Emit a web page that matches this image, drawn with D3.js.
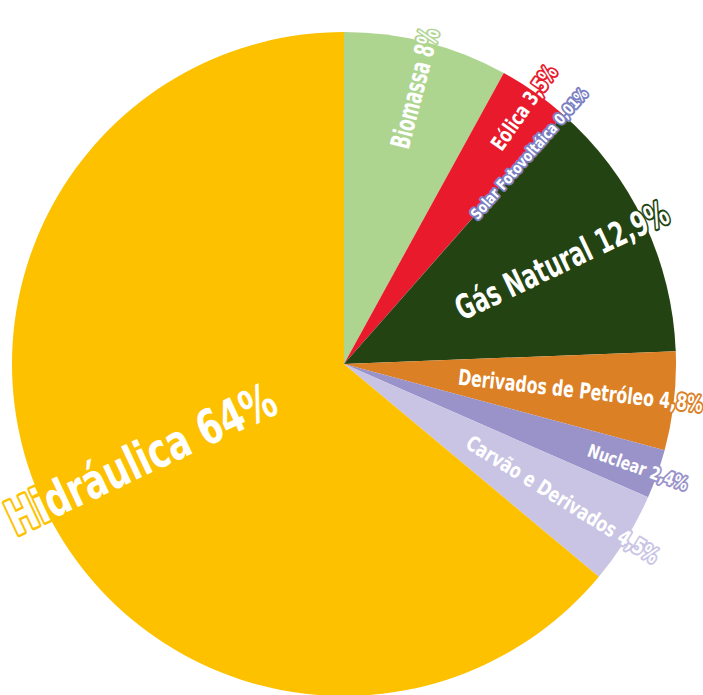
<!DOCTYPE html>
<meta charset="utf-8">
<script src="https://d3js.org/d3.v7.min.js"></script>
<style>
  body { margin: 0; background: #fff; }
  text { font-family: "DejaVu Sans Condensed", "DejaVu Sans", sans-serif; font-stretch: condensed; font-weight: bold; }
</style>
<div id="my_dataviz"></div>
<script>

// data (clockwise from 12 o'clock)
var categories = ["Biomassa", "Eólica", "Solar Fotovoltáica", "Gás Natural", "Derivados de Petróleo", "Nuclear", "Carvão e Derivados", "Hidráulica"];
var shares = [8, 3.5, 0.01, 12.9, 4.8, 2.4, 4.5, 64];
var shareLabels = ["8%", "3,5%", "0,01%", "12,9%", "4,8%", "2,4%", "4,5%", "64%"];
var colors = ["#aed590", "#e81a2b", "#7a80c2", "#244312", "#dc8025", "#9a93c9", "#c9c4e4", "#fdc100"];

// label styling: font size, where the text ends (radius) and its length
var fontSizes = [27, 21, 15, 34, 22, 18, 21, 48];
var labelEnd = [346, 362, 364, 357, 361, 364, 368, 370];
var labelLength = [123, 98, 168, 232, 246, 105, 222, 292];

var width = 703, height = 695;
var cx = 344, cy = 364, radius = 332;

var svg = d3.select("#my_dataviz")
  .append("svg")
    .attr("width", width)
    .attr("height", height)
  .append("g")
    .attr("transform", "translate(" + cx + "," + cy + ")");

var data = categories.map(function(c, i) {
  return {name: c, value: shares[i], label: c + " " + shareLabels[i], color: colors[i], i: i};
});

var pie = d3.pie()
  .sort(null)
  .value(function(d) { return d.value; });

var arc = d3.arc()
  .innerRadius(0)
  .outerRadius(radius);

var slices = pie(data);

svg.selectAll("slices")
  .data(slices)
  .enter()
  .append("path")
    .attr("d", arc)
    .attr("fill", function(d) { return d.data.color; });

// radial labels
svg.selectAll("labels")
  .data(slices)
  .enter()
  .append("text")
    .attr("transform", function(d) {
      var a = (d.startAngle + d.endAngle) / 2;
      var deg = a * 180 / Math.PI - 90;
      var r = labelEnd[d.data.i];
      var x = r * Math.sin(a), y = -r * Math.cos(a);
      // left half reads toward the center
      if (a > Math.PI) deg += 180;
      return "translate(" + x + "," + y + ") rotate(" + deg + ")";
    })
    .attr("text-anchor", function(d) {
      var a = (d.startAngle + d.endAngle) / 2;
      return a > Math.PI ? "start" : "end";
    })
    .attr("dy", "0.35em")
    .attr("textLength", function(d) { return labelLength[d.data.i]; })
    .attr("lengthAdjust", "spacingAndGlyphs")
    .style("font-size", function(d) { return fontSizes[d.data.i] + "px"; })
    .attr("fill", "#fff")
    .attr("stroke", function(d) { return d.data.color; })
    .attr("stroke-width", function(d) { return d.data.i == 7 ? 5 : 4; })
    .attr("stroke-linejoin", "round")
    .attr("paint-order", "stroke")
    .text(function(d) { return d.data.label; });

</script>
